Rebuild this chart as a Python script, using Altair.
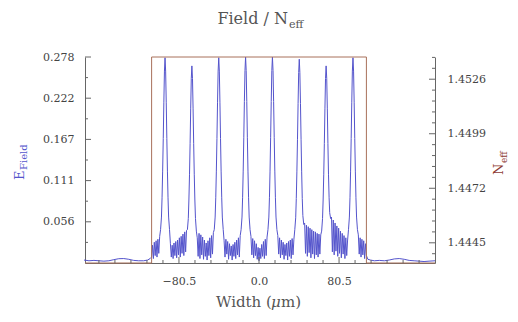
import altair as alt
import pandas as pd

# ---- field magnitude across the eight-guide array (x in micrometres) ----
clad_left_x = [-176, -171, -166, -161, -156, -151, -146, -141, -136, -131, -126, -121, -116, -112, -109.5]
clad_left_y = [0.004, 0.003, 0.0035, 0.003, 0.0025, 0.003, 0.0045, 0.0058, 0.006, 0.005, 0.0035, 0.003, 0.003, 0.004, 0.006]

edge_left_x = [-108.0, -107.1, -106.2, -105.3, -104.4, -103.5, -102.6, -101.7, -100.8, -99.9]
edge_left_y = [0.008, 0.024, 0.006, 0.028, 0.010, 0.030, 0.008, 0.032, 0.013, 0.036]

peak1_x = [-99.0, -98.1, -97.5, -96.9, -96.3, -95.7, -95.1, -94.5, -93.9, -93.3, -92.7, -92.1, -91.5, -90.9, -90.0]
peak1_y = [0.045, 0.062, 0.088, 0.124, 0.168, 0.217, 0.259, 0.277, 0.259, 0.217, 0.168, 0.124, 0.088, 0.062, 0.045]
gap1_x = [-89.1, -88.2, -87.3, -86.4, -85.5, -84.6, -83.7, -82.8, -81.9, -81.0,
          -80.1, -79.2, -78.3, -77.4, -76.5, -75.6, -74.7, -73.8, -72.9]
gap1_y = [0.026, 0.008, 0.024, 0.006, 0.027, 0.010, 0.029, 0.007, 0.031, 0.011,
          0.034, 0.008, 0.036, 0.013, 0.039, 0.010, 0.042, 0.015, 0.044]

peak2_x = [-72.0, -71.1, -70.5, -69.9, -69.3, -68.7, -68.1, -67.5, -66.9, -66.3, -65.7, -65.1, -64.5, -63.9, -63.0]
peak2_y = [0.045, 0.060, 0.085, 0.119, 0.161, 0.208, 0.249, 0.266, 0.249, 0.208, 0.161, 0.119, 0.085, 0.060, 0.043]
gap2_x = [-62.1, -61.2, -60.3, -59.4, -58.5, -57.6, -56.7, -55.8, -54.9, -54.0,
          -53.1, -52.2, -51.3, -50.4, -49.5, -48.6, -47.7, -46.8, -45.9]
gap2_y = [0.034, 0.009, 0.040, 0.006, 0.038, 0.011, 0.035, 0.005, 0.031, 0.009,
          0.027, 0.004, 0.030, 0.010, 0.034, 0.007, 0.037, 0.012, 0.041]

peak3_x = [-45.0, -44.1, -43.5, -42.9, -42.3, -41.7, -41.1, -40.5, -39.9, -39.3, -38.7, -38.1, -37.5, -36.9, -36.0]
peak3_y = [0.045, 0.062, 0.088, 0.124, 0.168, 0.217, 0.259, 0.277, 0.259, 0.217, 0.168, 0.124, 0.088, 0.062, 0.045]
gap3_x = [-35.1, -34.2, -33.3, -32.4, -31.5, -30.6, -29.7, -28.8, -27.9, -27.0,
          -26.1, -25.2, -24.3, -23.4, -22.5, -21.6, -20.7, -19.8, -18.9]
gap3_y = [0.030, 0.008, 0.032, 0.012, 0.029, 0.005, 0.026, 0.010, 0.023, 0.004,
          0.025, 0.009, 0.028, 0.006, 0.031, 0.011, 0.034, 0.008, 0.037]

peak4_x = [-18.0, -17.1, -16.5, -15.9, -15.3, -14.7, -14.1, -13.5, -12.9, -12.3, -11.7, -11.1, -10.5, -9.9, -9.0]
peak4_y = [0.045, 0.062, 0.088, 0.124, 0.169, 0.218, 0.260, 0.278, 0.260, 0.218, 0.169, 0.124, 0.088, 0.062, 0.045]
gap4_x = [-8.1, -7.2, -6.3, -5.4, -4.5, -3.6, -2.7, -1.8, -0.9, 0.0,
          0.9, 1.8, 2.7, 3.6, 4.5, 5.4, 6.3, 7.2, 8.1]
gap4_y = [0.036, 0.011, 0.033, 0.007, 0.030, 0.010, 0.026, 0.005, 0.021, 0.003,
          0.020, 0.006, 0.025, 0.009, 0.029, 0.006, 0.032, 0.010, 0.035]

peak5_x = [9.0, 9.9, 10.5, 11.1, 11.7, 12.3, 12.9, 13.5, 14.1, 14.7, 15.3, 15.9, 16.5, 17.1, 18.0]
peak5_y = [0.045, 0.062, 0.088, 0.124, 0.169, 0.218, 0.260, 0.278, 0.260, 0.218, 0.169, 0.124, 0.088, 0.062, 0.045]
gap5_x = [18.9, 19.8, 20.7, 21.6, 22.5, 23.4, 24.3, 25.2, 26.1, 27.0,
          27.9, 28.8, 29.7, 30.6, 31.5, 32.4, 33.3, 34.2, 35.1]
gap5_y = [0.037, 0.012, 0.034, 0.007, 0.031, 0.011, 0.028, 0.005, 0.025, 0.010,
          0.027, 0.004, 0.029, 0.009, 0.031, 0.006, 0.033, 0.011, 0.032]

peak6_x = [36.0, 36.9, 37.5, 38.1, 38.7, 39.3, 39.9, 40.5, 41.1, 41.7, 42.3, 42.9, 43.5, 44.1, 45.0]
peak6_y = [0.045, 0.061, 0.087, 0.123, 0.167, 0.215, 0.257, 0.275, 0.257, 0.215, 0.167, 0.123, 0.087, 0.064, 0.052]
gap6_x = [45.9, 46.8, 47.7, 48.6, 49.5, 50.4, 51.3, 52.2, 53.1, 54.0,
          54.9, 55.8, 56.7, 57.6, 58.5, 59.4, 60.3, 61.2, 62.1]
gap6_y = [0.054, 0.013, 0.051, 0.009, 0.049, 0.014, 0.047, 0.007, 0.045, 0.012,
          0.043, 0.006, 0.042, 0.011, 0.040, 0.008, 0.039, 0.012, 0.038]

peak7_x = [63.0, 63.9, 64.5, 65.1, 65.7, 66.3, 66.9, 67.5, 68.1, 68.7, 69.3, 69.9, 70.5, 71.1, 72.0]
peak7_y = [0.043, 0.060, 0.085, 0.119, 0.161, 0.208, 0.249, 0.266, 0.249, 0.208, 0.161, 0.119, 0.088, 0.068, 0.060]
gap7_x = [72.9, 73.8, 74.7, 75.6, 76.5, 77.4, 78.3, 79.2, 80.1, 81.0,
          81.9, 82.8, 83.7, 84.6, 85.5, 86.4, 87.3, 88.2, 89.1]
gap7_y = [0.062, 0.015, 0.058, 0.011, 0.054, 0.016, 0.050, 0.009, 0.047, 0.013,
          0.043, 0.007, 0.040, 0.012, 0.037, 0.006, 0.034, 0.010, 0.031]

peak8_x = [90.0, 90.9, 91.5, 92.1, 92.7, 93.3, 93.9, 94.5, 95.1, 95.7, 96.3, 96.9, 97.5, 98.1, 99.0]
peak8_y = [0.045, 0.062, 0.088, 0.124, 0.168, 0.217, 0.259, 0.277, 0.259, 0.217, 0.168, 0.124, 0.088, 0.062, 0.045]
edge_right_x = [99.9, 100.8, 101.7, 102.6, 103.5, 104.4, 105.3, 106.2, 107.1, 108.0]
edge_right_y = [0.038, 0.012, 0.034, 0.008, 0.032, 0.011, 0.030, 0.006, 0.026, 0.010]

clad_right_x = [109.5, 112, 116, 121, 126, 131, 136, 141, 146, 151, 156, 161, 166, 171, 177]
clad_right_y = [0.005, 0.004, 0.003, 0.0035, 0.003, 0.004, 0.0055, 0.006, 0.005, 0.0035, 0.003, 0.0025, 0.002, 0.0025, 0.003]

# ---- effective-index step profile ----
neff_x = [-175, -108, -108, 108, 108, 177]
neff_y = [1.4435, 1.4435, 1.4537, 1.4537, 1.4435, 1.4435]

# ---- axis ticks ----
x_major = [-80.5, 0.0, 80.5]
x_minor = [-161.0, -144.9, -128.8, -112.7, -96.6, -64.4, -48.3, -32.2, -16.1,
           16.1, 32.2, 48.3, 64.4, 96.6, 112.7, 128.8, 144.9, 161.0]
e_major = [0.0556, 0.1112, 0.1668, 0.2224, 0.278]
e_minor = [0.0278, 0.0834, 0.139, 0.1946, 0.2502]
n_major = [1.4445, 1.4472, 1.4499, 1.4526]
n_minor = [1.44396, 1.44504, 1.44558, 1.44612, 1.44666, 1.44774, 1.44828, 1.44882,
           1.44936, 1.45044, 1.45098, 1.45152, 1.45206, 1.45314, 1.45368]

W, H = 350, 206
X_DOM = [-175, 177]
E_DOM = [0, 0.278]
N_DOM = [1.4435, 1.4537]
FIELD_BLUE = "#5454cc"
INDEX_BROWN = "#a8705a"
NEFF_RED = "#8e3b34"
AXIS_GREY = "#666666"
LABEL_FONT = "DejaVu Serif"

segments = [
    (clad_left_x, clad_left_y), (edge_left_x, edge_left_y),
    (peak1_x, peak1_y), (gap1_x, gap1_y), (peak2_x, peak2_y), (gap2_x, gap2_y),
    (peak3_x, peak3_y), (gap3_x, gap3_y), (peak4_x, peak4_y), (gap4_x, gap4_y),
    (peak5_x, peak5_y), (gap5_x, gap5_y), (peak6_x, peak6_y), (gap6_x, gap6_y),
    (peak7_x, peak7_y), (gap7_x, gap7_y), (peak8_x, peak8_y),
    (edge_right_x, edge_right_y), (clad_right_x, clad_right_y),
]
rows = []
for xs_, ys_ in segments:
    rows.extend(zip(xs_, ys_))
field = pd.DataFrame(rows, columns=["x", "e"])
field["i"] = range(len(field))

neff = pd.DataFrame({"x": neff_x, "n": neff_y, "i": range(len(neff_x))})

xs = alt.Scale(domain=X_DOM, nice=False, zero=False)
es = alt.Scale(domain=E_DOM, nice=False, zero=False)
ns = alt.Scale(domain=N_DOM, nice=False, zero=False)

x_axis = alt.Axis(values=x_major, format=".1f", ticks=False, grid=False, title=None,
                  labelFont=LABEL_FONT, labelFontSize=11, labelColor="#444",
                  labelPadding=12, domainColor=AXIS_GREY)
e_axis = alt.Axis(values=e_major, format=".3f", ticks=False, grid=False, title=None,
                  labelFont=LABEL_FONT, labelFontSize=11, labelColor="#444",
                  labelPadding=11, domainColor=AXIS_GREY)
n_axis = alt.Axis(values=n_major, format=".4f", ticks=False, grid=False, title=None,
                  orient="right", labelFont=LABEL_FONT, labelFontSize=11,
                  labelColor="#444", labelPadding=12, domainColor=AXIS_GREY)

field_line = alt.Chart(field).mark_line(color=FIELD_BLUE, strokeWidth=1).encode(
    x=alt.X("x:Q", scale=xs, axis=x_axis),
    y=alt.Y("e:Q", scale=es, axis=e_axis),
    order="i:Q",
)

neff_line = alt.Chart(neff).mark_line(color=INDEX_BROWN, strokeWidth=1).encode(
    x=alt.X("x:Q", scale=xs, axis=x_axis),
    y=alt.Y("n:Q", scale=ns, axis=n_axis),
    order="i:Q",
)


def xticks(vals, length):
    return alt.Chart(pd.DataFrame({"t": vals})).mark_rule(color=AXIS_GREY).encode(
        x=alt.X("t:Q", scale=xs, axis=x_axis),
        y=alt.value(H), y2=alt.value(H - length),
    )


def eticks(vals, length):
    return alt.Chart(pd.DataFrame({"t": vals})).mark_rule(color=AXIS_GREY).encode(
        y=alt.Y("t:Q", scale=es, axis=None),
        x=alt.value(0), x2=alt.value(length),
    )


def nticks(vals, length):
    return alt.Chart(pd.DataFrame({"t": vals})).mark_rule(color=AXIS_GREY).encode(
        y=alt.Y("t:Q", scale=ns, axis=None),
        x=alt.value(W), x2=alt.value(W - length),
    )


def label(text, x, y, size, color="#555", angle=0, align="left", style="normal"):
    return alt.Chart(pd.DataFrame({"s": [text]})).mark_text(
        font=LABEL_FONT, fontSize=size, color=color, angle=angle, align=align,
        baseline="alphabetic", fontStyle=style,
    ).encode(text="s:N", x=alt.value(x), y=alt.value(y))


texts = [
    label("Field / N", 203, -33, 16, align="right"),
    label("eff", 204, -29, 11),
    label("Width (", 131, 250, 15),
    label("\u03bc", 186, 250, 15, style="italic"),
    label("m)", 196, 250, 15),
    label("E", -61, 123, 13, color=FIELD_BLUE, angle=270),
    label("Field", -58, 113, 10, color=FIELD_BLUE, angle=270),
    label("N", 418, 118, 13, color=NEFF_RED, angle=270),
    label("eff", 422, 106, 9, color=NEFF_RED, angle=270),
]

chart = alt.layer(
    field_line, neff_line,
    xticks(x_major, 6), xticks(x_minor, 3),
    eticks(e_major, 6), eticks(e_minor, 3),
    nticks(n_major, 6), nticks(n_minor, 3),
    *texts,
).resolve_scale(y="independent").properties(
    width=W, height=H,
    autosize=alt.AutoSizeParams(type="none"),
    padding={"left": 85, "top": 57, "right": 83, "bottom": 59},
    background="white",
).configure_view(stroke=None)

chart.save("out.html", embed_options={"renderer": "svg", "actions": False})
